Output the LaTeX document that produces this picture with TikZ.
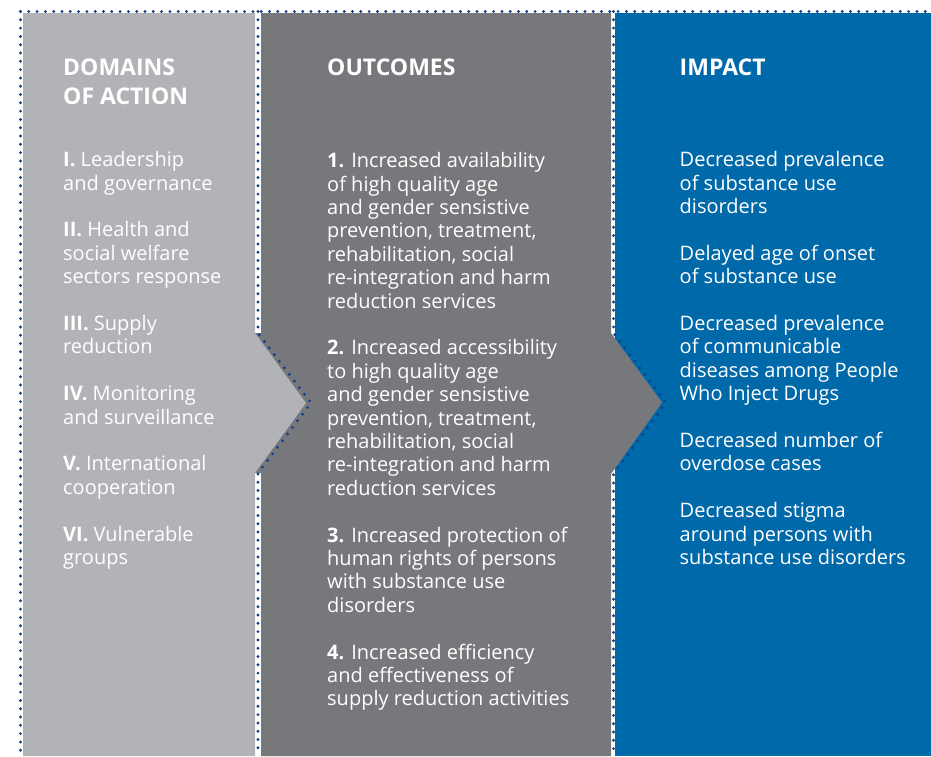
\documentclass[tikz,border=0pt]{standalone}
\usepackage{fontspec}
\setmainfont{Open Sans}
\definecolor{lightgrey}{RGB}{177,179,182}
\definecolor{darkgrey}{RGB}{119,120,123}
\definecolor{unblue}{RGB}{0,105,170}
\definecolor{dotblue}{RGB}{18,64,135}
\tikzset{
  hdr/.style={anchor=base west, inner sep=0pt, text=white, align=left,
    font=\bfseries\fontsize{23}{28.7}\selectfont},
  body/.style={anchor=base west, inner sep=0pt, text=white, align=left,
    font=\fontsize{20}{23.4}\selectfont},
  dots/.style={dotblue, line width=3.2pt, line cap=round, dash pattern=on 0pt off 8.3pt}
}
\newcommand{\gap}{\\[23.4pt]}

\begin{document}
\begin{tikzpicture}[x=1pt,y=-1pt]
      \useasboundingbox (0,0) rectangle (931,756);
      \fill[white] (0,0) rectangle (931,756);
      % the three columns
      \fill[unblue] (615,13) -- (931,13) -- (931,756) -- (615,756) -- cycle;
      \fill[darkgrey] (261,13) -- (611,13) -- (611,333) -- (662,402.5) -- (611,474) -- (611,756)
            -- (261,756) -- (261,473) -- (255,473) -- (255,333) -- (261,333) -- cycle;
      \fill[lightgrey] (23,13) -- (255,13) -- (255,333) -- (306,403) -- (255,473) -- (255,756)
            -- (23,756) -- cycle;
      % dotted borders
      \draw[dots] (20.5,11.5) -- (931,11.5);
      \draw[dots] (20.5,11.5) -- (20.5,756);
      \draw[dots] (258,11.5) -- (258,333) -- (311,403) -- (258,473) -- (258,756);
      \draw[dots] (613.5,11.5) -- (613.5,333) -- (666,402.5) -- (613.5,474) -- (613.5,756);
      % headings (placed at the baseline of their last line)
      \node[hdr] (domhead) at (63,104) {DOMAINS\\OF ACTION};
      \node[hdr] (outhead) at (327,75) {OUTCOMES};
      \node[hdr] (imphead) at (679.5,75) {IMPACT};
      % column texts
      \node[body] (dombody) at (63,564.5) {\textbf{I.} Leadership\\and governance\gap
            \textbf{II.} Health and\\social welfare\\sectors response\gap
            \textbf{III.} Supply\\reduction\gap
            \textbf{IV.} Monitoring\\and surveillance\gap
            \textbf{V.} International\\cooperation\gap
            \textbf{VI.} Vulnerable\\groups};
      \node[body] (outbody) at (327,705.9) {\textbf{1.} Increased availability\\of high quality age\\
            and gender sensistive\\prevention, treatment,\\rehabilitation, social\\
            re-integration and harm\\reduction services\gap
            \textbf{2.} Increased accessibility\\to high quality age\\
            and gender sensistive\\prevention, treatment,\\rehabilitation, social\\
            re-integration and harm\\reduction services\gap
            \textbf{3.} Increased protection of\\human rights of persons\\
            with substance use\\disorders\gap
            \textbf{4.} Increased efficiency\\and effectiveness of\\supply reduction activities};
      \node[body] (impbody) at (679.5,564.5) {Decreased prevalence\\of substance use\\disorders\gap
            Delayed age of onset\\of substance use\gap
            Decreased prevalence\\of communicable\\diseases among People\\Who Inject Drugs\gap
            Decreased number of\\overdose cases\gap
            Decreased stigma\\around persons with\\substance use disorders};
\end{tikzpicture}
\end{document}
